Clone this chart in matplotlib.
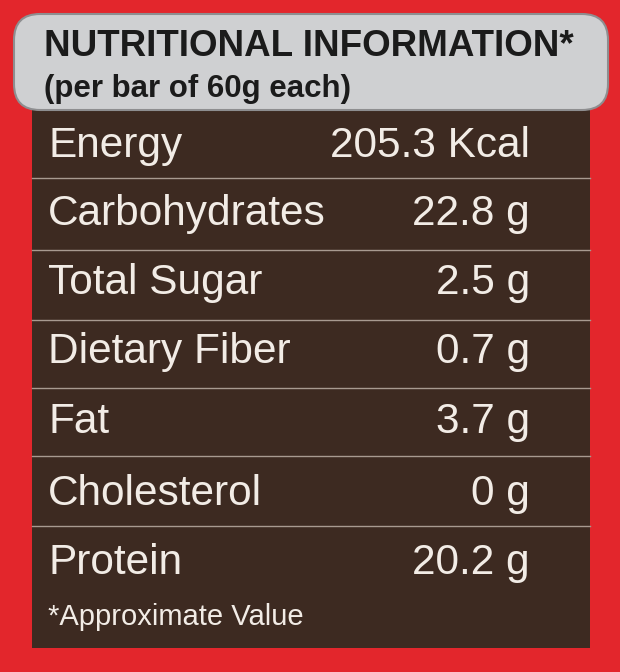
import matplotlib.pyplot as plt
from matplotlib.patches import FancyBboxPatch, Rectangle

title = "NUTRITIONAL INFORMATION*"
subtitle = "(per bar of 60g each)"
nutrients = ["Energy", "Carbohydrates", "Total Sugar", "Dietary Fiber", "Fat", "Cholesterol", "Protein"]
amounts = ["205.3 Kcal", "22.8 g", "2.5 g", "0.7 g", "3.7 g", "0 g", "20.2 g"]
footnote = "*Approximate Value"

RED = "#e3262c"
BROWN = "#3d2a21"
TXT = "#f2ece6"

fig = plt.figure(figsize=(6.2, 6.72), dpi=100)
fig.patch.set_facecolor(RED)
ax = fig.add_axes([0, 0, 1, 1])
ax.set_xlim(0, 620)
ax.set_ylim(672, 0)
ax.axis("off")

# brown panel
ax.add_patch(Rectangle((32, 95), 558, 553, facecolor=BROWN, edgecolor="none"))

# silver header
hdr = FancyBboxPatch((14, 14), 594, 96, boxstyle="round,pad=0,rounding_size=26",
                     facecolor="#cfd0d2", edgecolor="#8e8e90", linewidth=1.5)
ax.add_patch(hdr)
ax.text(44, 47, title, fontsize=26.5, fontweight="bold", color="#1b1b1b",
        va="center", ha="left", family="Liberation Sans")
ax.text(44, 89, subtitle, fontsize=22.5, fontweight="bold", color="#1b1b1b",
        va="center", ha="left", family="Liberation Sans")

row_y = [146, 214, 283, 352, 422, 494, 563]
sep_y = [178, 250, 320, 388, 456, 526]
for y in sep_y:
    ax.plot([32, 590], [y, y], color="#a89a90", linewidth=1)

for name, amt, y in zip(nutrients, amounts, row_y):
    ax.text(48, y, name, fontsize=30.5, color=TXT, va="center", ha="left",
            family="Liberation Sans")
    ax.text(530, y, amt, fontsize=30.5, color=TXT, va="center", ha="right",
            family="Liberation Sans")

ax.text(48, 617, footnote, fontsize=21, color=TXT, va="center", ha="left",
        family="Liberation Sans")

fig.savefig("out.png", dpi=100, facecolor=RED)
